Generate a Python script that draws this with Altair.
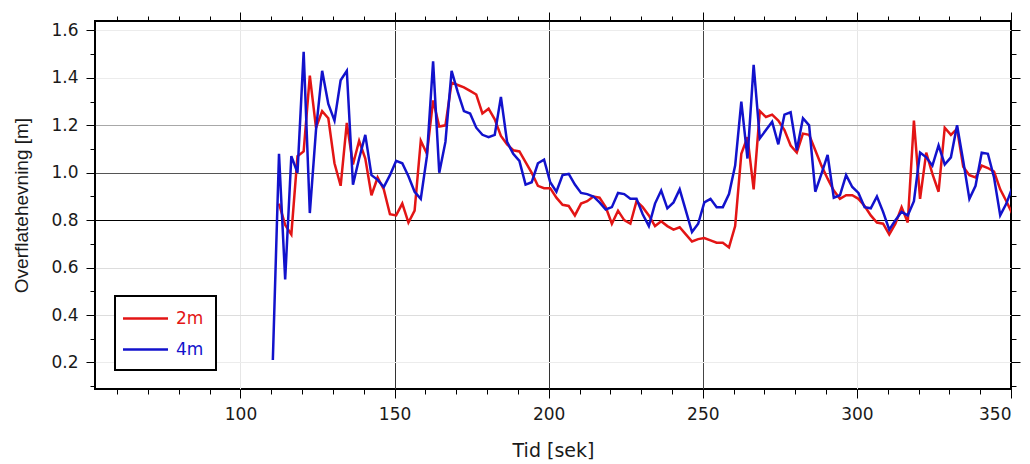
import altair as alt
import pandas as pd

# sampling times (seconds) - regular 2 s grid starting at 110.5
t_start = 110.5
t_step = 2.0
n_samples = 121
times = [t_start + t_step * k for k in range(n_samples)]

blue_4m = [
    0.21, 1.08, 0.55, 1.07, 1.00, 1.51, 0.83, 1.18, 1.43, 1.29,
    1.22, 1.39, 1.43, 0.95, 1.06, 1.16, 0.99, 0.97, 0.94, 0.99,
    1.05, 1.04, 0.985, 0.92, 0.89, 1.07, 1.47, 1.00, 1.13, 1.43,
    1.34, 1.26, 1.25, 1.19, 1.16, 1.15, 1.16, 1.32, 1.13, 1.08,
    1.05, 0.95, 0.96, 1.04, 1.055, 0.96, 0.92, 0.99, 0.995, 0.95,
    0.915, 0.91, 0.90, 0.875, 0.845, 0.855, 0.915, 0.91, 0.89, 0.89,
    0.825, 0.775, 0.87, 0.925, 0.85, 0.875, 0.93, 0.84, 0.75, 0.785,
    0.875, 0.89, 0.855, 0.855, 0.91, 1.03, 1.30, 1.06, 1.455, 1.145,
    1.18, 1.215, 1.12, 1.245, 1.255, 1.095, 1.23, 1.20, 0.92, 0.995,
    1.075, 0.895, 0.905, 0.99, 0.94, 0.915, 0.855, 0.85, 0.90, 0.835,
    0.76, 0.80, 0.835, 0.82, 0.88, 1.085, 1.065, 1.03, 1.115, 1.035,
    1.065, 1.20, 1.05, 0.89, 0.945, 1.085, 1.08, 0.98, 0.82, 0.87,
    0.94,
]

red_2m = [
    None, 0.87, 0.78, 0.74, 1.07, 1.09, 1.41, 1.19, 1.26, 1.23,
    1.04, 0.945, 1.21, 1.035, 1.135, 1.06, 0.905, 0.98, 0.93, 0.825,
    0.82, 0.87, 0.79, 0.84, 1.135, 1.08, 1.305, 1.195, 1.20, 1.38,
    1.37, 1.36, 1.345, 1.33, 1.25, 1.27, 1.225, 1.155, 1.12, 1.095,
    1.09, 1.045, 1.00, 0.945, 0.935, 0.935, 0.895, 0.865, 0.86, 0.82,
    0.87, 0.88, 0.90, 0.895, 0.855, 0.785, 0.84, 0.80, 0.785, 0.88,
    0.855, 0.82, 0.775, 0.795, 0.775, 0.76, 0.77, 0.74, 0.71, 0.72,
    0.725, 0.715, 0.705, 0.705, 0.685, 0.775, 1.08, 1.15, 0.93, 1.26,
    1.235, 1.245, 1.22, 1.18, 1.115, 1.085, 1.165, 1.16, 1.095, 1.03,
    0.975, 0.925, 0.89, 0.905, 0.905, 0.89, 0.86, 0.82, 0.79, 0.785,
    0.74, 0.785, 0.855, 0.79, 1.22, 0.89, 1.085, 0.995, 0.92, 1.19,
    1.16, 1.185, 1.025, 0.99, 0.98, 1.03, 1.02, 1.005, 0.93, 0.88,
    0.825,
]

series_names = ["2m", "4m"]
series_colors = ["#e31515", "#1212cc"]

x_major = [100, 150, 200, 250, 300, 350]
x_minor = list(range(60, 351, 10))
y_major = [0.2, 0.4, 0.6, 0.8, 1.0, 1.2, 1.4, 1.6]
y_minor = [round(0.1 * i, 1) for i in range(1, 17)]

rows = []
for t, v in zip(times, red_2m):
    if v is not None:
        rows.append({"t": t, "v": v, "serie": "2m"})
for t, v in zip(times, blue_4m):
    if v is not None:
        rows.append({"t": t, "v": v, "serie": "4m"})
df = pd.DataFrame(rows)

xs = alt.Scale(domain=[52.8, 350], nice=False, zero=False)
ys = alt.Scale(domain=[0.088, 1.64], nice=False, zero=False)

WIDE = "DejaVu Sans"
NARROW = "Liberation Sans"

xgrid = ("(datum.value == 150 || datum.value == 200) ? '#333333' : "
         "datum.value == 250 ? '#444444' : datum.value == 350 ? 'rgba(0,0,0,0)' : '#e6e6e6'")
ygrid = ("abs(datum.value - 0.8) < 0.01 ? '#000000' : "
         "abs(datum.value - 1.0) < 0.01 ? '#555555' : "
         "abs(datum.value - 1.2) < 0.01 ? '#a8a8a8' : "
         "(datum.value > 0.3 && datum.value < 0.7) ? '#dddddd' : '#ececec'")

base = alt.Chart(df)

main = base.mark_line(strokeWidth=2.5, clip=True).encode(
    x=alt.X("t:Q", scale=xs, axis=alt.Axis(
        orient="bottom", values=x_major, tickSize=9, labelPadding=8,
        grid=True, gridColor={"expr": xgrid}, domain=False,
        labelFont=WIDE, labelFontSize=17,
        title="Tid [sek]", titleFont=WIDE, titleFontSize=19, titlePadding=19)),
    y=alt.Y("v:Q", scale=ys, axis=alt.Axis(
        orient="left", values=y_major, tickSize=9, labelPadding=8,
        format=".1f", grid=True, gridColor={"expr": ygrid}, domain=False,
        labelFont=WIDE, labelFontSize=17,
        title="Overflatehevning [m]", titleFont=NARROW, titleFontSize=19,
        titlePadding=19)),
    color=alt.Color("serie:N",
                    scale=alt.Scale(domain=series_names, range=series_colors),
                    legend=alt.Legend(
                        title=None, orient="none", legendX=20, legendY=275,
                        symbolType="M-2.5,0H2.5", symbolSize=324,
                        symbolStrokeWidth=2.5, symbolOffset=8,
                        labelFontSize=17, labelFont=WIDE, labelOffset=20,
                        rowPadding=12, padding=12,
                        strokeColor="#000000", fillColor="#ffffff",
                        labelColor={"expr": "datum.label == '2m' ? '%s' : '%s'" % (series_colors[0], series_colors[1])},
                    )),
    detail="serie:N",
)


def ghost(xaxis, yaxis):
    return base.mark_line(strokeOpacity=0, clip=True).encode(
        x=alt.X("t:Q", scale=xs, axis=xaxis),
        y=alt.Y("v:Q", scale=ys, axis=yaxis),
        detail="serie:N",
    )


bottom_left_minor = ghost(
    alt.Axis(orient="bottom", values=x_minor, tickSize=5, labels=False,
             grid=False, domain=False, title=None),
    alt.Axis(orient="left", values=y_minor, tickSize=5, labels=False,
             grid=False, domain=False, title=None),
)
top_right_major = ghost(
    alt.Axis(orient="top", values=x_major, tickSize=9, labels=False,
             grid=False, domain=False, title=None),
    alt.Axis(orient="right", values=y_major, tickSize=9, labels=False,
             grid=False, domain=False, title=None),
)
top_right_minor = ghost(
    alt.Axis(orient="top", values=x_minor, tickSize=5, labels=False,
             grid=False, domain=False, title=None),
    alt.Axis(orient="right", values=y_minor, tickSize=5, labels=False,
             grid=False, domain=False, title=None),
)

chart = alt.layer(main, bottom_left_minor, top_right_major, top_right_minor).resolve_axis(
    x="independent", y="independent"
).properties(
    width=916, height=368,
    autosize=alt.AutoSizeParams(type="none"),
    padding={"left": 95, "top": 21, "right": 19, "bottom": 75},
    background="white",
).configure_view(
    stroke="#000000", strokeWidth=2
).configure_axis(
    labelColor="#1a1a1a", titleFontWeight="normal", titleColor="#1a1a1a",
    tickColor="#000000", tickWidth=1, gridWidth=1,
).configure_legend(
    strokeWidth=2
)

chart.save("out.html", embed_options={"renderer": "svg", "actions": False})
